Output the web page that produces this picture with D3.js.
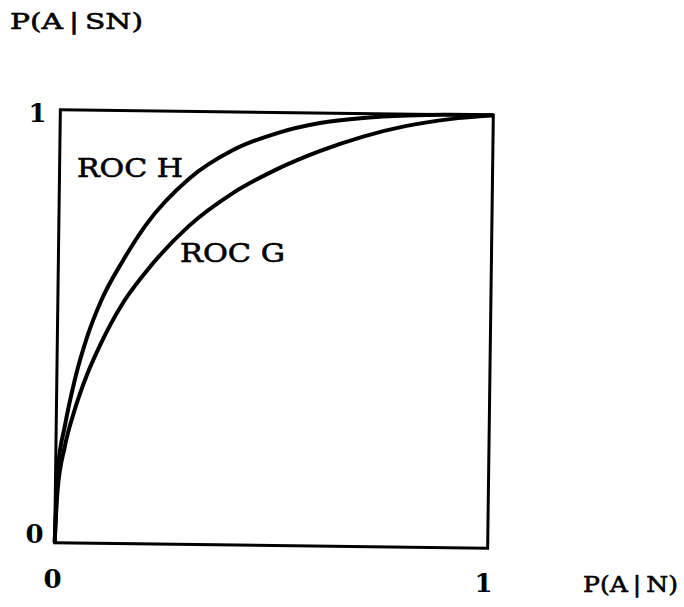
<!DOCTYPE html>
<html>
<head>
<meta charset="utf-8">
<script src="https://cdn.jsdelivr.net/npm/d3@7"></script>
<style>
  html, body { margin: 0; padding: 0; background: #fff; }
  svg { display: block; }
  text { font-family: "DejaVu Serif", "Liberation Serif", serif; fill: #000; }
  .heavy { stroke: #000; stroke-width: 0.6px; }
</style>
</head>
<body>
<div id="chart"></div>
<script>
// false alarm rate P(A|N) grid shared by both curves
const falseAlarm = [0, 0.005, 0.02, 0.04, 0.07, 0.1, 0.15, 0.2, 0.3, 0.4, 0.5, 0.6, 0.7, 0.8, 0.9, 1];
// hit rate P(A|SN) for each ROC
const hitH = [0, 0.17, 0.27, 0.37, 0.48, 0.56, 0.655, 0.735, 0.845, 0.912, 0.952, 0.977, 0.99, 0.997, 1, 1];
const hitG = [0, 0.12, 0.22, 0.30, 0.39, 0.46, 0.555, 0.625, 0.735, 0.812, 0.868, 0.912, 0.947, 0.973, 0.99, 1];
const curveNames = ["ROC H", "ROC G"];
const tickValues = [0, 1];
const xTitle = "P(A\u2009|\u2009N)";
const yTitle = "P(A\u2009|\u2009SN)";

const W = 684, H = 607;
const side = 433;
const cx = 274, cy = 329;            // centre of the square
const x0 = cx - side / 2, y0 = cy - side / 2;

const svg = d3.select("#chart").append("svg")
    .attr("width", W)
    .attr("height", H);

const x = d3.scaleLinear().domain([0, 1]).range([x0, x0 + side]);
const y = d3.scaleLinear().domain([0, 1]).range([y0 + side, y0]);

// the scanned figure is turned a little clockwise
const plot = svg.append("g")
    .attr("transform", `rotate(0.75,${cx},${cy})`);

plot.append("rect")
    .attr("x", x(0)).attr("y", y(1))
    .attr("width", x(1) - x(0)).attr("height", y(0) - y(1))
    .attr("fill", "none")
    .attr("stroke", "#000")
    .attr("stroke-width", 3);

const line = d3.line()
    .x(d => x(d[0]))
    .y(d => y(d[1]))
    .curve(d3.curveMonotoneX);

[hitH, hitG].forEach(hits => {
    plot.append("path")
        .datum(falseAlarm.map((f, i) => [f, hits[i]]))
        .attr("d", line)
        .attr("fill", "none")
        .attr("stroke", "#000")
        .attr("stroke-width", 4)
        .attr("stroke-linejoin", "round");
});

// curve labels
svg.append("text")
    .attr("class", "heavy")
    .attr("x", 77).attr("y", 177)
    .attr("font-size", 26)
    .attr("textLength", 106).attr("lengthAdjust", "spacingAndGlyphs")
    .text(curveNames[0]);

svg.append("text")
    .attr("class", "heavy")
    .attr("x", 180).attr("y", 262)
    .attr("font-size", 26)
    .attr("textLength", 105).attr("lengthAdjust", "spacingAndGlyphs")
    .text(curveNames[1]);

// tick labels
svg.selectAll(".ytick")
    .data(tickValues)
    .join("text")
    .attr("class", "ytick")
    .attr("x", d => x(0) - (d === 1 ? 11 : 14))
    .attr("y", d => y(d) + (d === 1 ? 9 : -3))
    .attr("text-anchor", "end")
    .attr("font-size", 26)
    .attr("font-weight", "bold")
    .text(d => d);

svg.selectAll(".xtick")
    .data(tickValues)
    .join("text")
    .attr("class", "xtick")
    .attr("x", d => x(d) - (d === 1 ? 7 : 5))
    .attr("y", d => y(0) + (d === 1 ? 46 : 42))
    .attr("text-anchor", "middle")
    .attr("font-size", 26)
    .attr("font-weight", "bold")
    .text(d => d);

// axis titles
svg.append("text")
    .attr("class", "heavy")
    .attr("x", 10).attr("y", 29)
    .attr("font-size", 23)
    .attr("textLength", 133).attr("lengthAdjust", "spacingAndGlyphs")
    .text(yTitle);

svg.append("text")
    .attr("class", "heavy")
    .attr("x", 583).attr("y", 592)
    .attr("font-size", 23)
    .attr("textLength", 95).attr("lengthAdjust", "spacingAndGlyphs")
    .text(xTitle);
</script>
</body>
</html>
